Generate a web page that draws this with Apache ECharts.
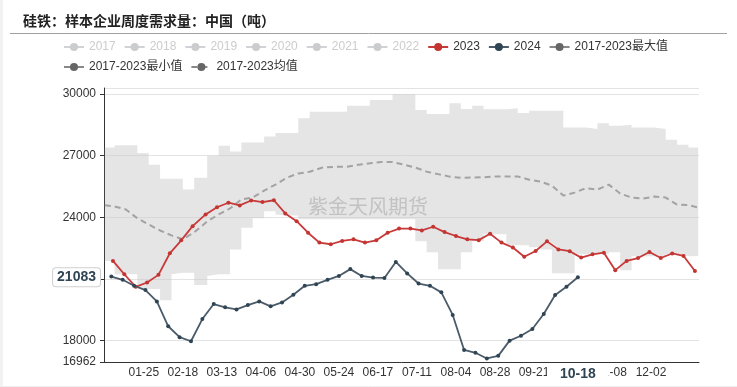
<!DOCTYPE html>
<html>
<head>
<meta charset="utf-8">
<script src="https://cdn.jsdelivr.net/npm/echarts@6/dist/echarts.min.js"></script>
<style>
html,body{margin:0;padding:0;background:#fff;}
#main{width:737px;height:387px;}
</style>
</head>
<body>
<div id="main"></div>
<script>
// ---- data ----
var titleText = '硅铁：样本企业周度需求量：中国（吨）';
var watermarkText = '紫金天风期货';

var dates2023 = ['01-06','01-13','01-20','01-27','02-03','02-10','02-17','02-24','03-03','03-10','03-17','03-24','03-31','04-07','04-14','04-21','04-28','05-05','05-12','05-19','05-26','06-02','06-09','06-16','06-23','06-30','07-07','07-14','07-21','07-28','08-04','08-11','08-18','08-25','09-01','09-08','09-15','09-22','09-29','10-06','10-13','10-20','10-27','11-03','11-10','11-17','11-24','12-01','12-08','12-15','12-22','12-29'];
var values2023 = [21880,21230,20620,20830,21200,22250,22880,23570,24140,24490,
  24710,24580,24820,24740,24830,24190,23810,23250,22770,22690,
  22850,22930,22770,22880,23250,23450,23450,23360,23540,23280,
  23090,22930,22890,23200,22770,22530,22080,22360,22830,22440,
  22350,22040,22200,22280,21430,21880,22020,22310,22020,22240,
  22120,21390];

var dates2024 = ['01-05','01-12','01-19','01-26','02-02','02-09','02-16','02-23','03-01','03-08','03-15','03-22','03-29','04-05','04-12','04-19','04-26','05-03','05-10','05-17','05-24','05-31','06-07','06-14','06-21','06-28','07-05','07-12','07-19','07-26','08-02','08-09','08-16','08-23','08-30','09-06','09-13','09-20','09-27','10-04','10-11','10-18'];
var values2024 = [21120,20960,20670,20460,19910,18700,18170,17970,19050,19780,
  19620,19520,19730,19910,19670,19860,20230,20670,20750,20960,
  21150,21480,21150,21070,21050,21830,21270,20780,20670,20350,
  19250,17550,17410,17133,17260,18000,18240,18570,19300,20220,
  20620,21083];

var bandDates = ['01-01','01-07','01-14','01-21','01-28','02-04','02-11','02-18','02-25',
  '03-04','03-11','03-18','03-25','04-01','04-08','04-15','04-22','04-29','05-06',
  '05-14','05-22',
  '05-29','06-05','06-12','06-19','06-26','07-03','07-10','07-17','07-24','07-31',
  '08-07','08-14','08-21','08-28','09-04','09-11','09-18','09-25','10-02','10-09',
  '10-16','10-23','10-30','11-06','11-13','11-20','11-27','12-04','12-11','12-18','12-25',
  '12-31'];
var maxValues = [27400,27500,27500,27130,26560,25870,25870,25350,25920,27000,
  27480,27200,27640,27640,27930,28100,28100,28820,29140,29140,
  29140,29430,29430,29710,29710,29990,29990,29225,29020,29020,
  29550,29270,29430,29260,29260,29310,29070,29180,29180,29180,
  28370,28370,28300,28580,28450,28500,28370,28370,28290,27770,
  27530,27400,27400];
var minValues = [21880,21230,21230,20510,20510,19970,21230,21300,20710,21150,
  21230,22440,23490,23950,24300,24140,24090,23900,23900,23900,
  23900,23900,23900,23900,23900,23900,23900,22830,22300,21470,
  21470,22300,22850,23170,23170,22640,22640,22540,22440,21280,
  21280,22200,22200,22200,22300,21430,22100,22100,22100,22200,
  22200,22120,22120];
var meanValues = [24590,24530,24380,23950,23650,23360,23120,22930,23270,23800,
  24140,24430,24870,24960,25300,25590,25930,26130,26220,26420,
  26460,26460,26560,26630,26690,26690,26560,26420,26220,26100,
  25980,25920,25940,25950,25980,25990,25990,25830,25740,25540,
  25060,25200,25420,25350,25590,25160,24960,24910,25010,24960,
  24620,24590,24480];

var hiddenYears = ['2017','2018','2019','2020','2021','2022'];
var legendRow1 = ['2017','2018','2019','2020','2021','2022','2023','2024','2017-2023最大值'];
var legendRow2 = ['2017-2023最小值','2017-2023均值'];
var yMin = 16962, yMax = 30290;
var pointerDate = '10-18', pointerValue = 21083;

// x-axis categories: every day of the (leap) calendar year, MM-DD
var monthDays = [31,29,31,30,31,30,31,31,30,31,30,31];
var categories = [];
monthDays.forEach(function (n, m) {
  for (var d = 1; d <= n; d++) {
    categories.push((m < 9 ? '0' : '') + (m + 1) + '-' + (d < 10 ? '0' : '') + d);
  }
});

// ---- chart ----
function pairs(dates, vals) { return dates.map(function (d, i) { return [d, vals[i]]; }); }
var bandDiff = maxValues.map(function (v, i) { return v - minValues[i]; });
var labelFn = function (i) { return i > 0 && i < 350 && i % 24 === 0; };
var FONT = "'Liberation Sans', 'Noto Sans CJK SC', sans-serif";

var series = [];
var yearColors = ['#61a0a8','#d48265','#91c7ae','#749f83','#ca8622','#bda29a'];
hiddenYears.forEach(function (y, i) {
  series.push({ name: y, type: 'line', data: [], symbol: 'circle', itemStyle: { color: yearColors[i] } });
});
series.push({
  name: '2017-2023最小值', type: 'line', stack: 'band', step: 'end',
  data: pairs(bandDates, minValues), showSymbol: false, symbol: 'circle',
  lineStyle: { opacity: 0 }, itemStyle: { color: '#666' }, silent: true, z: 1
});
series.push({
  name: '2017-2023最大值', type: 'line', stack: 'band', step: 'end',
  data: pairs(bandDates, bandDiff), showSymbol: false, symbol: 'circle',
  lineStyle: { opacity: 0 }, itemStyle: { color: '#666' },
  areaStyle: { color: 'rgba(204,204,204,0.5)', opacity: 1 }, silent: true, z: 1
});
series.push({
  name: '2017-2023均值', type: 'line', data: pairs(bandDates, meanValues),
  showSymbol: false, symbol: 'circle', itemStyle: { color: '#666' },
  lineStyle: { color: '#a3a3a3', width: 2, type: [6, 4] }, z: 2
});
series.push({
  name: '2023', type: 'line', data: pairs(dates2023, values2023),
  symbol: 'circle', symbolSize: 4, showAllSymbol: true, itemStyle: { color: '#c23531' },
  lineStyle: { color: '#c9393a', width: 1.8 }, z: 3
});
series.push({
  name: '2024', type: 'line', data: pairs(dates2024, values2024),
  symbol: 'circle', symbolSize: 4, showAllSymbol: true, itemStyle: { color: '#2f4554' },
  lineStyle: { color: '#4b5b69', width: 1.8 }, z: 4
});

var selected = {};
hiddenYears.forEach(function (y) { selected[y] = false; });

function legendData(names) {
  return names.map(function (n) {
    if (n.indexOf('2017-2023') === 0) {
      return { name: n, lineStyle: { opacity: 1, color: '#888' }, itemStyle: { color: '#666' } };
    }
    return { name: n };
  });
}
var legendBase = {
  itemWidth: 20, itemHeight: 10, itemGap: 8, inactiveColor: '#ccc',
  textStyle: { fontSize: 12, color: '#333', fontFamily: FONT }
};

var option = {
  animation: false,
  backgroundColor: '#fff',
  title: {
    text: titleText, left: 18, top: 9,
    textStyle: { fontSize: 14, fontWeight: 'bold', color: '#222', fontFamily: "'Noto Sans CJK SC', sans-serif" }
  },
  graphic: [
    { type: 'line', shape: { x1: 10, y1: 33.5, x2: 727, y2: 33.5 }, style: { stroke: '#a0a0a0', lineWidth: 1 }, silent: true },
    { type: 'rect', shape: { x: 0, y: 0, width: 3, height: 387 }, style: { fill: '#f2f2f2' }, silent: true },
    { type: 'line', shape: { x1: 0, y1: 386.5, x2: 737, y2: 386.5 }, style: { stroke: '#eeeeee', lineWidth: 1 }, silent: true },
    { type: 'text', left: 308, top: 196, z: 100, silent: true,
      style: { text: watermarkText, fontSize: 20, fill: 'rgba(150,150,150,0.45)', fontFamily: "'Noto Sans CJK SC', sans-serif" } }
  ],
  legend: [
    Object.assign({}, legendBase, { left: 58, top: 36, data: legendData(legendRow1), selected: selected }),
    Object.assign({}, legendBase, { left: 58, top: 56, data: legendData(legendRow2) })
  ],
  grid: { left: 104, right: 38, top: 88, bottom: 25 },
  xAxis: {
    type: 'category', data: categories, boundaryGap: true,
    axisLine: { lineStyle: { color: '#333' } },
    axisTick: { alignWithLabel: true, interval: labelFn, length: 5, lineStyle: { color: '#333' } },
    axisLabel: { interval: labelFn, color: '#333', fontSize: 12, margin: 5, fontFamily: FONT },
    splitLine: { show: false },
    axisPointer: {
      show: true, status: 'show', type: 'line', value: categories.indexOf(pointerDate),
      triggerTooltip: false, lineStyle: { opacity: 0 },
      label: {
        show: true, backgroundColor: '#fff', color: '#2f4554', fontWeight: 'bold', fontSize: 14,
        padding: [3, 13, 3, 13], margin: 2, fontFamily: FONT, shadowBlur: 0,
        formatter: function () { return pointerDate; }
      }
    }
  },
  yAxis: {
    type: 'value', min: yMin, max: yMax,
    axisLine: { show: true, lineStyle: { color: '#333' } },
    axisTick: { show: true, length: 4, lineStyle: { color: '#333' } },
    axisLabel: { color: '#333', fontSize: 12, showMaxLabel: false, fontFamily: FONT,
      formatter: function (v) { return String(Math.round(v)); } },
    splitLine: { lineStyle: { color: '#e3e3e3' } },
    axisPointer: {
      show: true, status: 'show', type: 'line', value: pointerValue,
      triggerTooltip: false, lineStyle: { opacity: 0 },
      label: {
        show: true, backgroundColor: '#fff', borderColor: '#d0d0d0', borderWidth: 1,
        color: '#2f4554', fontWeight: 'bold', fontSize: 14, padding: [2, 4, 2, 4], margin: 4,
        fontFamily: FONT, shadowBlur: 0,
        formatter: function () { return String(pointerValue); }
      }
    }
  },
  series: series
};

var chart = echarts.init(document.getElementById('main'), null, { renderer: 'canvas' });
chart.setOption(option);
</script>
</body>
</html>
